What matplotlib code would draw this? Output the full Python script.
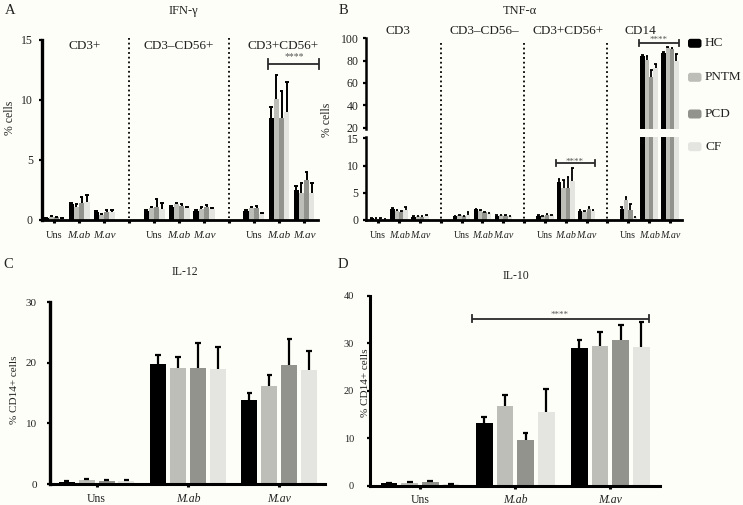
import matplotlib
matplotlib.use('Agg')
import matplotlib.pyplot as plt
import numpy as np
from matplotlib import transforms
from matplotlib.patches import FancyBboxPatch

plt.rcParams['font.family'] = ['Liberation Serif', 'DejaVu Serif']

W, H = 743, 505
BG = '#fefef9'
TXT = '#222222'

# ---------------- data ----------------
groups = ['HC', 'PNTM', 'PCD', 'CF']
colors = ['#000000', '#bdbeb7', '#92938d', '#e4e4e0']
stims = ['Uns', 'M.ab', 'M.av']

# A: IFN-gamma (% cells); rows = Uns, M.ab, M.av ; cols = HC, PNTM, PCD, CF
ifng_sections = ['CD3+', 'CD3–CD56+', 'CD3+CD56+']
ifng_cd3_mean = [[0.15, 0.28, 0.22, 0.10], [1.30, 1.10, 1.44, 1.50], [0.70, 0.42, 0.70, 0.64]]
ifng_cd3_err = [[0.03, 0.05, 0.05, 0.03], [0.08, 0.23, 0.46, 0.60], [0.08, 0.05, 0.13, 0.19]]
ifng_nk_mean = [[0.78, 0.97, 1.05, 0.92], [1.10, 1.30, 1.17, 0.97], [0.75, 0.92, 1.05, 0.92]]
ifng_nk_err = [[0.05, 0.10, 0.73, 0.47], [0.08, 0.08, 0.16, 0.08], [0.05, 0.13, 0.20, 0.08]]
ifng_nkt_mean = [[0.75, 1.03, 0.97, 0.50], [8.47, 10.06, 8.47, 9.03], [2.50, 2.28, 3.33, 2.22]]
ifng_nkt_err = [[0.08, 0.08, 0.20, 0.10], [0.97, 2.02, 2.31, 2.47], [0.33, 0.77, 0.70, 0.83]]

# B: TNF-alpha (% cells)
tnf_sections = ['CD3', 'CD3–CD56–', 'CD3+CD56+', 'CD14']
tnf_cd3_mean = [[0.30, 0.25, 0.25, 0.20], [2.10, 1.70, 1.50, 1.80], [0.60, 0.70, 0.60, 0.80]]
tnf_cd3_err = [[0.05, 0.05, 0.05, 0.05], [0.10, 0.10, 0.10, 0.60], [0.05, 0.10, 0.05, 0.15]]
tnf_dn_mean = [[0.70, 0.90, 0.70, 1.00], [2.00, 1.70, 1.40, 1.20], [0.80, 0.85, 0.80, 0.70]]
tnf_dn_err = [[0.05, 0.10, 0.05, 0.40], [0.10, 0.10, 0.10, 0.10], [0.05, 0.05, 0.05, 0.05]]
tnf_nkt_mean = [[0.80, 0.70, 1.00, 0.90], [6.90, 5.90, 5.90, 7.10], [1.70, 1.50, 2.10, 1.60]]
tnf_nkt_err = [[0.05, 0.05, 0.10, 0.10], [0.70, 1.40, 2.00, 2.40], [0.10, 0.10, 0.25, 0.15]]
tnf_cd14_mean = [[2.00, 3.70, 1.80, 0.50], [84.5, 81.0, 65.0, 73.0], [86.5, 91.0, 90.4, 80.0]]
tnf_cd14_err = [[0.40, 0.60, 1.20, 0.10], [0.80, 3.00, 7.00, 4.00], [0.80, 1.00, 1.00, 6.00]]

# C: IL-12 (% CD14+ cells)
il12_mean = [[0.40, 0.66, 0.50, 0.44], [19.8, 19.2, 19.2, 19.0], [13.8, 16.2, 19.6, 18.9]]
il12_err = [[0.05, 0.15, 0.15, 0.20], [1.5, 1.8, 4.0, 3.6], [1.3, 1.8, 4.3, 3.1]]

# D: IL-10 (% CD14+ cells)
il10_mean = [[0.50, 0.60, 0.84, 0.35], [13.1, 16.8, 9.6, 15.6], [28.9, 29.5, 30.7, 29.3]]
il10_err = [[0.05, 0.10, 0.10, 0.10], [1.3, 2.3, 1.6, 4.7], [1.8, 2.9, 3.1, 5.1]]

# ---------------- helpers ----------------
fig = plt.figure(figsize=(W / 100, H / 100), dpi=100)
fig.patch.set_facecolor(BG)


def axes_px(left, top, right, bottom):
    a = fig.add_axes([left / W, 1 - bottom / H, (right - left) / W, (bottom - top) / H])
    a.set_facecolor('none')
    return a


def fy(py):
    return 1 - py / H


def style(ax, lw_left, lw_bottom, show_bottom=True):
    for s in ['top', 'right']:
        ax.spines[s].set_visible(False)
    ax.spines['left'].set_linewidth(lw_left)
    ax.spines['bottom'].set_linewidth(lw_bottom)
    ax.spines['bottom'].set_visible(show_bottom)
    ax.tick_params(axis='y', direction='out', length=2.5, width=1.6, colors='black', labelcolor=TXT)
    ax.tick_params(axis='x', direction='out', length=2.2, width=2.2, colors='black', labelcolor=TXT)


def draw_bars(ax, positions, means, errs, width, pitch, cap, elw):
    means = np.asarray(means)
    errs = np.asarray(errs)
    offs = (np.arange(4) - 1.5) * pitch
    for gi in range(4):
        x = np.asarray(positions) + offs[gi]
        ax.bar(x, means[:, gi], width, color=colors[gi], zorder=2, linewidth=0)
        top = means[:, gi] + errs[:, gi]
        ax.vlines(x, means[:, gi], top, color='black', lw=elw, zorder=3)
        ax.hlines(top, x - cap, x + cap, color='black', lw=elw, zorder=3)


def bracket(ax, x0, x1, y, h, star_y, star_x, fs=7):
    ax.plot([x0, x1], [y, y], color='#2a2a2a', lw=1.3, zorder=4, clip_on=False, solid_capstyle='butt')
    ax.plot([x0, x0], [y - h, y + h], color='#2a2a2a', lw=1.3, zorder=4, clip_on=False)
    ax.plot([x1, x1], [y - h, y + h], color='#2a2a2a', lw=1.3, zorder=4, clip_on=False)
    ax.text(star_x, star_y, '****', ha='center', va='center', fontsize=fs, color='#555555', zorder=5)


def italic_ticklabels(ax, size):
    for lab in ax.get_xticklabels():
        if lab.get_text().startswith('M.'):
            lab.set_fontstyle('italic')
            lab.set_fontsize(size)


# ---------------- Panel A ----------------
axA = axes_px(42, 40, 318, 220)
style(axA, 2.4, 2.0)
axA.set_xlim(-0.48, 10.56)
axA.set_ylim(0, 15)
a_means = [ifng_cd3_mean, ifng_nk_mean, ifng_nkt_mean]
a_errs = [ifng_cd3_err, ifng_nk_err, ifng_nkt_err]
for s in range(3):
    draw_bars(axA, np.arange(3) + 4 * s, a_means[s], a_errs[s], 0.21, 0.21, 0.07, 1.4)
axA.set_yticks([0, 5, 10, 15])
axA.tick_params(axis='y', labelsize=8.5, pad=4)
a_ticks = np.arange(11)
a_labels = [stims[i % 4] if i % 4 < 3 else '' for i in a_ticks]
axA.set_xticks(a_ticks)
axA.set_xticklabels(a_labels, fontsize=7.5)
axA.tick_params(axis='x', pad=6)
italic_ticklabels(axA, 8)
blendA = transforms.blended_transform_factory(axA.transData, fig.transFigure)
for xs in [3, 7]:
    axA.plot([xs, xs], [fy(38), fy(218)], transform=blendA, color='black', lw=1.3,
             linestyle=(0, (1, 1.6)), clip_on=False, zorder=1)
for lab, xp in zip(ifng_sections, [1.24, 5.0, 9.16]):
    axA.text(xp, fy(46), lab, transform=blendA, ha='center', va='center', fontsize=9.5, color=TXT)
bracket(axA, 8.55, 10.6, 13.0, 0.38, 13.65, 9.6)
fig.text(183 / W, fy(11), 'IFN-γ', ha='center', va='center', fontsize=9, color=TXT)
fig.text(10 / W, fy(11), 'A', ha='center', va='center', fontsize=10.5, color=TXT)
fig.text(10 / W, fy(118), '% cells', ha='center', va='center', rotation=90, fontsize=8.5, color=TXT)

# ---------------- Panel B ----------------
axBl = axes_px(366, 136.7, 682, 220)
axBu = axes_px(366, 38.3, 682, 128.8)
style(axBl, 1.8, 2.0)
style(axBu, 1.8, 2.0, show_bottom=False)
b_means = [tnf_cd3_mean, tnf_dn_mean, tnf_nkt_mean, tnf_cd14_mean]
b_errs = [tnf_cd3_err, tnf_dn_err, tnf_nkt_err, tnf_cd14_err]
for ax in (axBl, axBu):
    ax.set_xlim(-0.59, 14.58)
    for s in range(4):
        draw_bars(ax, np.arange(3) + 4 * s, b_means[s], b_errs[s], 0.21, 0.21, 0.06, 1.3)
axBl.set_ylim(0, 15.3)
axBu.set_ylim(19, 100)
axBl.set_yticks([0, 5, 10, 15])
axBu.set_yticks([20, 40, 60, 80, 100])
axBl.tick_params(axis='y', labelsize=8.5, pad=3)
axBu.tick_params(axis='y', labelsize=8.5, pad=3)
axBu.set_xticks([])
b_ticks = np.arange(15)
b_labels = [stims[i % 4] if i % 4 < 3 else '' for i in b_ticks]
axBl.set_xticks(b_ticks)
axBl.set_xticklabels(b_labels, fontsize=7.2)
axBl.tick_params(axis='x', pad=6)
italic_ticklabels(axBl, 7.2)
blendB = transforms.blended_transform_factory(axBl.transData, fig.transFigure)
for xs in [3, 7, 11]:
    axBl.plot([xs, xs], [fy(43), fy(219)], transform=blendB, color='black', lw=1.3,
              linestyle=(0, (1, 1.6)), clip_on=False, zorder=1)
for lab, xp in zip(tnf_sections, [0.92, 5.1, 9.1, 12.56]):
    axBl.text(xp, fy(31.5), lab, transform=blendB, ha='center', va='center', fontsize=9.5, color=TXT)
bracket(axBl, 8.51, 10.4, 10.4, 0.55, 10.75, 9.44, fs=6.5)
bracket(axBu, 12.52, 14.43, 95.5, 2.8, 98.3, 13.47, fs=6.5)
fig.text(520 / W, fy(11), 'TNF-α', ha='center', va='center', fontsize=9, color=TXT)
fig.text(343 / W, fy(11), 'B', ha='center', va='center', fontsize=10.5, color=TXT)
fig.text(327 / W, fy(120), '% cells', ha='center', va='center', rotation=90, fontsize=8.5, color=TXT)

# legend
leg_y = [43.3, 77.3, 114.0, 146.7]
for name, col, yy in zip(groups, colors, leg_y):
    p = FancyBboxPatch((688, H - yy - 4.5), 13.5, 9, boxstyle='round,pad=0,rounding_size=2.5',
                       transform=transforms.IdentityTransform(), facecolor=col, edgecolor='none')
    fig.add_artist(p)
    fig.text(705 / W, fy(yy), name, ha='left', va='center', fontsize=9.5, color=TXT)

# ---------------- Panel C ----------------
axC = axes_px(50, 302.3, 325, 484)
style(axC, 2.4, 2.2)
axC.set_xlim(-0.51, 2.5)
axC.set_ylim(0, 30)
draw_bars(axC, np.arange(3), il12_mean, il12_err, 0.175, 0.218, 0.03, 1.6)
axC.set_yticks([0, 10, 20, 30])
axC.tick_params(axis='y', labelsize=8, pad=7)
axC.set_xticks(np.arange(3))
axC.set_xticklabels(stims, fontsize=8.5)
axC.tick_params(axis='x', pad=4)
italic_ticklabels(axC, 8.5)
fig.text(185 / W, fy(272), 'IL-12', ha='center', va='center', fontsize=8.5, color=TXT)
fig.text(8 / W, fy(264), 'C', ha='center', va='center', fontsize=10.5, color=TXT)
fig.text(15 / W, fy(390), '% CD14+ cells', ha='center', va='center', rotation=90, fontsize=8, color=TXT)

# ---------------- Panel D ----------------
axD = axes_px(370, 295.7, 660, 485.7)
style(axD, 2.2, 2.2)
axD.set_xlim(-0.525, 2.52)
axD.set_ylim(0, 40)
draw_bars(axD, np.arange(3), il10_mean, il10_err, 0.175, 0.217, 0.03, 1.6)
axD.set_yticks([0, 10, 20, 30, 40])
axD.tick_params(axis='y', labelsize=7.5, pad=9)
axD.set_xticks(np.arange(3))
axD.set_xticklabels(stims, fontsize=8.5)
axD.tick_params(axis='x', pad=4)
italic_ticklabels(axD, 8.5)
bracket(axD, 0.55, 2.4, 35.2, 0.7, 36.0, 1.47, fs=6.5)
fig.text(516 / W, fy(276), 'IL-10', ha='center', va='center', fontsize=8.5, color=TXT)
fig.text(343 / W, fy(264), 'D', ha='center', va='center', fontsize=10.5, color=TXT)
fig.text(365 / W, fy(383), '% CD14+ cells', ha='center', va='center', rotation=90, fontsize=8, color=TXT)

fig.savefig('out.png', dpi=100, facecolor=BG)
